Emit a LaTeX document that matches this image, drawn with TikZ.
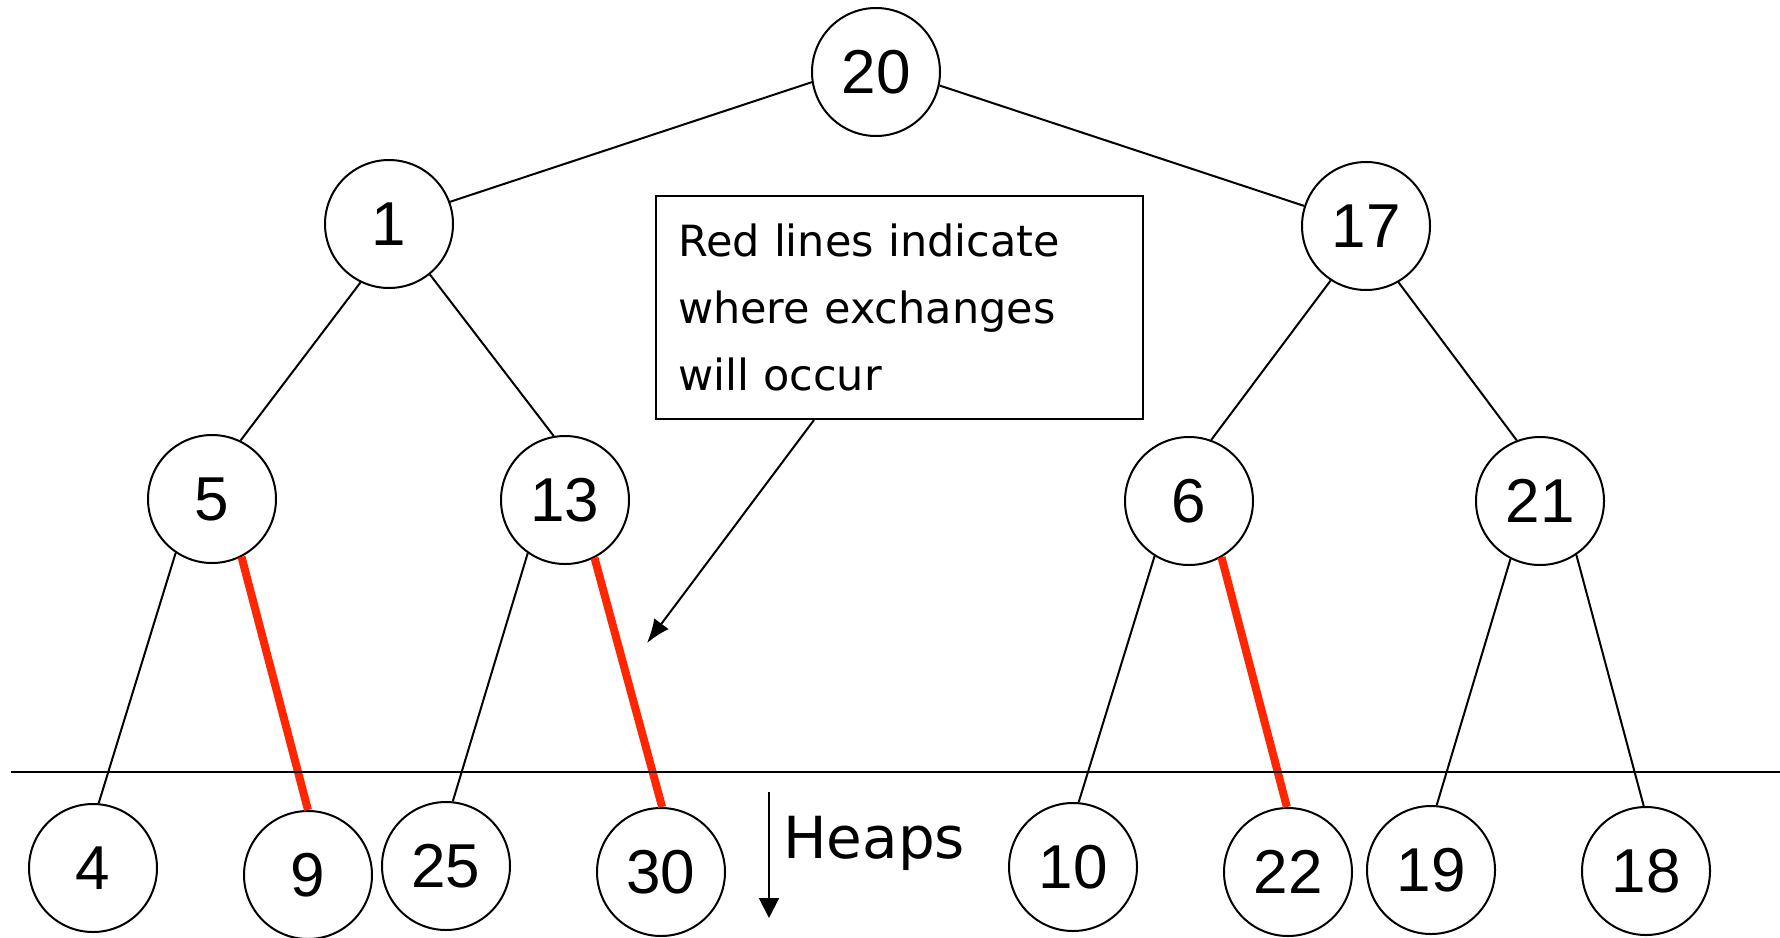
\documentclass[tikz,border=0pt]{standalone}
\usepackage{fontspec}
\setmainfont{Liberation Sans}
\newfontfamily\notefont{DejaVu Sans}
\usetikzlibrary{arrows.meta}
\definecolor{swapred}{RGB}{255,38,0}
\tikzset{
    key/.style={draw, circle, line width=2pt, minimum size=128pt, inner sep=0pt,
        font=\fontsize{62}{62}\selectfont},
    link/.style={line width=2pt},
    swap/.style={line width=8pt, swapred},
    note/.style={draw, line width=2pt, minimum width=487pt, minimum height=223pt,
        text width=443pt, align=left, inner sep=0pt,
        font=\notefont\fontsize{43}{67}\selectfont}
}

\begin{document}
\begin{tikzpicture}[x=1pt, y=-1pt]
\useasboundingbox (0,0) rectangle (1780,937);
% the tree, one node per key
\foreach \k/\x/\y in {20/876/72, 1/389/224, 17/1366/226,
    5/212/499, 13/565/500, 6/1189/501, 21/1540/501,
    4/93/868, 9/308/875, 25/446/866, 30/661/872,
    10/1073/867, 22/1288/872, 19/1431/870, 18/1646/871} {
    \node[key] (n\k) at (\x,\y) {\k};
}
% parent.angle / child.angle
\foreach \a/\p/\b/\q in {20/189/1/20, 20/348/17/162, 1/244/5/64, 1/309/13/100,
    17/237/6/70, 17/300/21/111, 5/236/4/85, 13/235/25/84, 6/238/10/85,
    21/243/19/85, 21/304/18/92} {
    \draw[link] (n\a.\p) -- (n\b.\q);
}
% exchanges
\foreach \a/\p/\b/\q in {5/297/9/90, 13/297/30/89, 6/300/22/91} {
    \draw[swap] (n\a.\p) -- (n\b.\q);
}
% heaps boundary
\draw[link] (11,772) -- (1780,772);
\coordinate (htop) at (769,792);
\coordinate (hbot) at (769,918);
\draw[link, -{Triangle[length=20pt, width=20pt]}] (htop) -- (hbot);
\node[anchor=west, inner sep=0pt, font=\notefont\fontsize{58}{58}\selectfont] (heaps) at (783,843) {Heaps};
% note
\node[note] (msg) at (899.5,307.5) {Red lines indicate\\ where exchanges\\ will occur};
\coordinate (tip) at (647,643);
\draw[link, -{Latex[length=24pt, width=18pt]}] ([xshift=159pt]msg.south west) -- (tip);
\end{tikzpicture}
\end{document}
